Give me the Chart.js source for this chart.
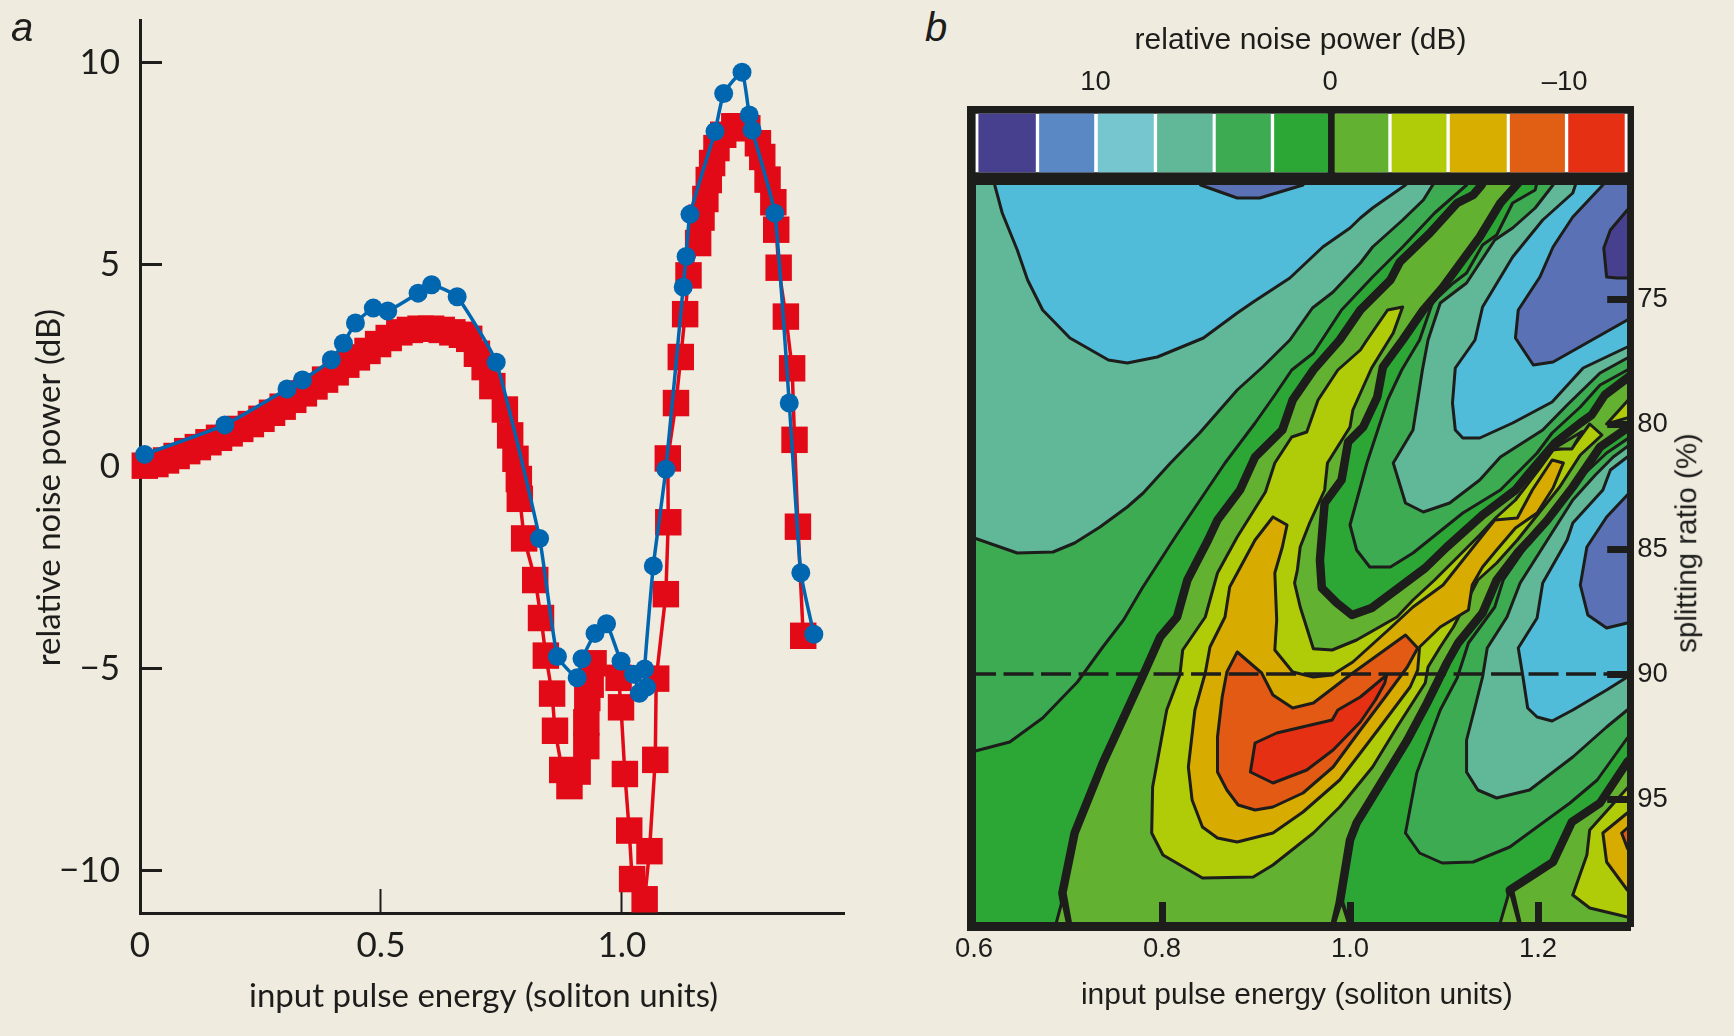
<!DOCTYPE html>
<html><head><meta charset="utf-8">
<script src="https://cdn.jsdelivr.net/npm/chart.js@4"></script>
<style>
html,body{margin:0;padding:0;width:1734px;height:1036px;background:#efebdf;overflow:hidden}
canvas{position:absolute;display:block}
.cap{position:absolute;color:#1d1d1b;font-family:"Liberation Sans",Arial,sans-serif;white-space:nowrap;line-height:1}
</style></head><body>
<canvas id="chartA" width="860" height="1036" style="left:0;top:0"></canvas>
<canvas id="chartC" width="774" height="180" style="left:960px;top:0"></canvas>
<canvas id="chartB" width="794" height="860" style="left:940px;top:176px"></canvas>
<div class="cap" style="left:11px;top:7px;font-size:40px;font-style:italic">a</div>
<div class="cap" style="left:925px;top:7px;font-size:40px;font-style:italic">b</div>
<div class="cap" style="left:1686px;top:543px;font-size:29.5px;transform:translate(-50%,-50%) rotate(-90deg)">splitting ratio (%)</div>
<script>
// ---------- panel a ----------
const redEnergy=[.01,.032,.054,.076,.098,.12,.142,.164,.186,.208,.23,.252,.274,.296,.318,.34,.362,.384,.406,.428,.45,.472,.494,.516,.538,.56,.582,.604,.626,.648,.668,.683,.699,.715,.731,.757,.768,.779,.786,.788,.797,.82,.832,.842,.855,.861,.876,.891,.908,.926,.926,.928,.935,.941,.993,.998,1.006,1.015,1.021,1.047,1.057,1.069,1.071,1.091,1.096,1.095,1.112,1.122,1.131,1.138,1.158,1.165,1.173,1.18,1.187,1.196,1.21,1.233,1.245,1.26,1.282,1.291,1.302,1.314,1.32,1.325,1.34,1.353,1.358,1.365,1.376];
const redNoise=[.03,.07,.16,.27,.39,.49,.61,.72,.83,.94,1.06,1.19,1.34,1.49,1.66,1.82,1.99,2.16,2.34,2.53,2.71,2.87,3.04,3.19,3.33,3.39,3.42,3.42,3.39,3.33,3.27,3.17,2.8,2.47,2.0,1.42,.78,.2,-.3,-.79,-1.77,-2.8,-3.74,-4.67,-5.61,-6.53,-7.5,-7.9,-7.54,-6.91,-6.32,-5.72,-5.39,-4.86,-5.22,-5.95,-7.6,-9.0,-10.2,-10.7,-9.51,-7.25,-5.24,-3.15,-1.37,.21,1.58,2.72,3.78,4.74,5.54,6.17,6.63,7.1,7.52,7.89,8.22,8.43,8.43,8.38,8.01,7.67,7.11,6.55,5.87,4.93,3.72,2.44,.67,-1.48,-4.18];
const blueEnergy=[.0096,.176,.305,.337,.397,.422,.447,.484,.514,.577,.605,.658,.739,.829,.866,.907,.917,.944,.968,.998,1.024,1.036,1.051,1.047,1.065,1.091,1.127,1.133,1.141,1.193,1.211,1.249,1.264,1.27,1.317,1.347,1.371,1.398];
const blueNoise=[.31,1.04,1.93,2.15,2.65,3.06,3.56,3.93,3.86,4.3,4.51,4.21,2.59,-1.77,-4.69,-5.22,-4.75,-4.12,-3.88,-4.81,-5.13,-5.6,-5.45,-5.0,-2.45,-.06,4.45,5.21,6.25,8.3,9.24,9.77,8.71,8.34,6.28,1.58,-2.62,-4.14];
const energyTicksA=[0,.5,1];
const energyLabelsA=['0','0.5','1.0'];
const noiseTicksA=[-10,-5,0,5,10];
const noiseLabelsA=['\u221210','\u22125','0','5','10'];

// ---------- panel b colour key (dB) ----------
const keyHigh=[14.98,12.39,9.89,7.36,4.86,2.37,-.21,-2.64,-5.12,-7.68,-10.17];
const keyLow=[12.56,10.07,7.53,5.02,2.54,.10,-2.47,-4.95,-7.52,-10.0,-12.55];
const keyColors=['#46408f','#5a88c4','#75c6ce','#60b899','#3dab52','#2ca736','#62b130','#b0cb08','#d8ae00','#e05f14','#e53013'];
const keyTicks=[10,0,-10];
const keyTickLabels=['10','0','\u201310'];

// ---------- panel b contours: [energy, splitting ratio] ----------
const regionBase=[[.585,69.84],[1.309,69.84],[1.309,100.44],[.585,100.44]];
const leftGreen=[[.585,93.24],[.638,92.72],[.673,91.76],[.710,90.32],[.737,88.92],[.759,87.84],[.779,86.56],[.812,84.64],[.819,84.24],[.867,81.56],[.899,79.96],[.920,78.84],[.938,77.84],[.961,77.16],[.991,75.44],[1.024,74.12],[1.056,72.92],[1.090,71.56],[1.124,70.44],[1.133,69.84],[.585,69.84]];
const leftTeal=[[.585,84.36],[.646,85.16],[.684,85.12],[.707,84.76],[.734,84.12],[.763,83.32],[.780,82.76],[.809,81.56],[.840,80.36],[.880,78.64],[.907,77.72],[.936,76.64],[.960,75.36],[.982,74.72],[1.011,73.56],[1.024,72.92],[1.056,71.84],[1.078,71.04],[1.088,70.44],[1.096,69.84],[.585,69.84]];
const leftCyan=[[.619,69.84],[.622,70.44],[.630,71.56],[.646,73.04],[.657,74.24],[.673,75.44],[.702,76.56],[.743,77.44],[.763,77.56],[.795,77.32],[.844,76.56],[.880,75.56],[.897,75.12],[.936,74.16],[.971,72.92],[1.000,72.16],[1.011,71.76],[1.024,71.36],[1.059,70.44],[1.077,69.84]];
const topBlue=[[.841,69.84],[.841,70.44],[.880,70.96],[.904,70.96],[.950,70.44],[.950,69.84]];
const hillGreen=[[1.202,69.84],[1.197,70.64],[1.173,71.16],[1.156,72.44],[1.141,72.84],[1.124,73.96],[1.110,74.36],[1.088,75.12],[1.074,76.64],[1.055,77.84],[1.040,79.04],[1.018,81.56],[1.000,84.04],[1.007,85.04],[1.021,85.72],[1.043,85.72],[1.067,85.16],[1.120,83.56],[1.160,82.64],[1.199,81.16],[1.215,80.36],[1.245,79.32],[1.266,78.44],[1.295,77.84],[1.309,77.44],[1.309,69.84]];
const hillTeal=[[1.216,69.84],[1.216,70.44],[1.197,71.36],[1.173,72.16],[1.154,72.64],[1.124,74.36],[1.096,75.16],[1.083,76.64],[1.077,77.84],[1.067,80.24],[1.046,81.56],[1.059,83.16],[1.078,83.52],[1.106,83.16],[1.138,82.24],[1.160,81.32],[1.205,80.24],[1.231,79.24],[1.266,77.96],[1.295,77.36],[1.309,77.12],[1.309,69.84]];
const hillCyan=[[1.245,69.84],[1.237,70.76],[1.205,71.84],[1.173,73.32],[1.141,75.32],[1.133,76.64],[1.112,77.76],[1.109,79.16],[1.112,80.24],[1.120,80.56],[1.138,80.56],[1.173,79.96],[1.215,79.12],[1.248,77.76],[1.295,76.92],[1.309,76.64],[1.309,69.84]];
const hillBlue=[[1.279,69.84],[1.269,70.44],[1.237,71.72],[1.216,72.92],[1.202,74.12],[1.179,75.44],[1.176,76.56],[1.195,77.64],[1.216,77.52],[1.295,75.84],[1.309,75.56],[1.309,69.84]];
const hillNavy=[[1.309,71.04],[1.295,71.44],[1.277,72.24],[1.270,72.96],[1.273,74.12],[1.284,74.16],[1.309,74.16]];
const lowGreen=[[1.059,96.36],[1.071,93.96],[1.096,91.44],[1.114,90.16],[1.126,88.76],[1.154,87.32],[1.163,86.24],[1.191,84.72],[1.223,83.24],[1.248,82.04],[1.273,81.16],[1.309,80.24],[1.309,92.24],[1.295,92.56],[1.263,94.24],[1.234,95.16],[1.199,96.12],[1.170,96.92],[1.131,97.52],[1.098,97.56],[1.074,97.16]];
const lowTeal=[[1.124,93.92],[1.124,92.64],[1.133,91.32],[1.141,90.12],[1.146,88.96],[1.167,87.72],[1.181,86.36],[1.210,84.64],[1.237,83.04],[1.261,82.04],[1.280,81.32],[1.309,80.52],[1.309,91.04],[1.295,91.44],[1.273,92.12],[1.237,93.32],[1.191,94.64],[1.156,94.96],[1.136,94.64]];
const lowCyan=[[1.179,88.96],[1.199,87.76],[1.205,86.36],[1.231,84.64],[1.237,83.96],[1.269,82.64],[1.277,81.84],[1.295,81.32],[1.309,81.04],[1.309,89.76],[1.295,90.12],[1.273,90.64],[1.237,91.44],[1.215,91.88],[1.199,91.72],[1.189,91.36],[1.184,90.12]];
const lowBlue=[[1.309,82.44],[1.295,82.84],[1.273,83.72],[1.252,84.92],[1.245,86.44],[1.253,87.64],[1.273,88.16],[1.295,87.96],[1.309,87.84]];
const ridgeZero=[[.702,100.44],[.694,98.76],[.707,96.36],[.737,93.56],[.779,90.12],[.798,88.52],[.816,87.72],[.827,86.24],[.849,84.64],[.859,83.84],[.883,82.64],[.899,81.32],[.928,80.24],[.939,79.04],[.961,77.84],[.989,76.64],[1.011,75.44],[1.043,74.24],[1.053,73.52],[1.085,72.36],[1.114,71.16],[1.131,70.84],[1.140,70.44],[1.149,69.84],[1.185,69.84],[1.179,70.36],[1.160,71.16],[1.138,72.52],[1.120,73.44],[1.099,74.52],[1.078,75.44],[1.056,76.64],[1.035,77.72],[1.029,78.92],[1.014,80.12],[.998,80.72],[.991,82.24],[.973,83.16],[.970,84.52],[.968,85.44],[.970,86.56],[.986,87.16],[1.002,87.64],[1.023,87.36],[1.053,86.52],[1.080,85.76],[1.103,84.92],[1.141,83.64],[1.176,82.64],[1.189,82.04],[1.218,80.76],[1.245,79.96],[1.257,79.64],[1.271,78.84],[1.295,78.16],[1.309,77.76],[1.309,79.84],[1.295,80.16],[1.266,80.92],[1.237,82.52],[1.210,83.84],[1.191,84.64],[1.178,85.16],[1.156,86.24],[1.141,87.56],[1.115,88.76],[1.103,89.56],[1.082,91.16],[1.061,92.64],[1.035,94.24],[1.007,95.96],[1.000,96.64],[.989,99.16],[.981,100.44]];
const ridgeYellow=[[.897,98.12],[.843,98.16],[.801,97.24],[.789,96.36],[.790,94.52],[.805,91.44],[.819,90.04],[.822,89.04],[.846,87.72],[.859,85.96],[.880,84.52],[.910,82.72],[.920,81.56],[.938,80.52],[.954,80.32],[.966,79.04],[.987,77.84],[1.011,77.04],[1.018,76.64],[1.040,75.44],[1.056,75.32],[1.046,76.36],[1.023,77.76],[1.003,79.44],[1.000,80.12],[.976,81.56],[.973,82.64],[.957,83.96],[.947,84.92],[.944,85.84],[.941,86.36],[.947,87.32],[.961,88.99],[.981,89.04],[1.007,88.64],[1.050,87.72],[1.067,87.04],[1.090,86.24],[1.106,85.64],[1.138,84.44],[1.156,83.72],[1.176,83.04],[1.202,81.76],[1.216,81.04],[1.237,80.92],[1.255,80.0],[1.268,80.44],[1.245,81.24],[1.223,82.52],[1.195,83.84],[1.178,84.64],[1.156,85.56],[1.136,86.24],[1.110,88.12],[1.096,88.92],[1.083,89.72],[1.080,90.36],[1.050,92.12],[1.024,93.72],[.998,94.92],[.989,95.32],[.961,96.36],[.918,97.64]];
const ridgeAmber=[[.918,83.72],[.933,84.04],[.928,84.92],[.920,85.96],[.922,87.84],[.920,89.04],[.939,89.92],[.961,90.12],[.981,90.04],[1.003,89.52],[1.043,88.16],[1.067,87.32],[1.099,86.44],[1.154,83.84],[1.178,83.76],[1.194,82.64],[1.215,81.44],[1.227,81.56],[1.216,82.56],[1.199,83.56],[1.176,84.16],[1.156,85.04],[1.141,85.72],[1.130,86.44],[1.126,87.44],[1.096,88.12],[1.074,88.92],[1.072,89.84],[1.064,90.52],[1.032,92.12],[1.011,93.16],[.989,94.24],[.950,95.52],[.918,96.36],[.880,96.72],[.859,96.56],[.843,96.12],[.832,95.04],[.828,93.72],[.835,91.44],[.846,89.96],[.851,88.92],[.867,87.72],[.872,86.52],[.899,84.64]];
const ridgeOrange=[[.880,89.12],[.906,89.96],[.918,90.84],[.939,91.36],[.961,91.16],[1.000,90.04],[1.059,88.44],[1.072,88.96],[1.061,89.72],[1.035,91.04],[1.011,92.24],[.982,93.72],[.950,94.76],[.918,95.32],[.899,95.44],[.881,95.24],[.869,94.64],[.859,93.92],[.859,92.52],[.864,90.92],[.869,89.92]];
const ridgeRed=[[.899,92.76],[.922,92.36],[.981,91.84],[.987,91.44],[1.011,90.92],[1.039,90.04],[1.037,90.36],[1.027,91.04],[1.011,91.92],[.982,93.04],[.954,93.84],[.918,94.36],[.894,93.92]];
const edgeYellow=[[1.273,80.0],[1.309,78.5],[1.309,79.6]];
const notchLime=[[1.216,81.0],[1.247,80.3],[1.236,81.0]];
const cornerLime=[[1.181,100.44],[1.170,98.64],[1.216,97.52],[1.236,95.92],[1.266,95.16],[1.295,93.52],[1.309,93.04],[1.309,100.44]];
const cornerYellow=[[1.237,98.84],[1.252,97.24],[1.255,96.24],[1.295,94.56],[1.309,94.04],[1.309,99.84],[1.295,99.72],[1.255,99.36]];
const cornerAmber=[[1.309,95.24],[1.295,95.56],[1.269,96.36],[1.273,97.52],[1.295,98.64],[1.309,99.04]];
const cornerOrange=[[1.309,95.76],[1.295,96.16],[1.289,96.36],[1.295,96.96],[1.309,97.84]];
const forkA=[[.684,100.44],[.694,99.04],[.702,100.44]];
const forkB=[[.979,100.44],[.991,99.04],[1.003,100.44]];
const forkC=[[1.156,100.44],[1.170,98.64],[1.183,100.44]];
const scanLine=[[.6,90],[1.3,90]];
const energyTicksB=[.6,.8,1,1.2];
const ratioTicksB=[75,80,85,90,95];

const INK='#1d1d1b', NAVY='#46408f', BLUE='#5a72b5', CYAN='#50bcd9', TEAL='#60b899', G1='#3dab52', G2='#2ca736', LIME='#62b130', YEL='#b0cb08', AMB='#d8ab00', ORG='#e25a13', RED='#e53013';
const THIN=3, THICK=8.5;
const paint=[
 [regionBase,G2,0],[leftGreen,G1,THIN],[leftTeal,TEAL,THIN],[leftCyan,CYAN,THIN],[topBlue,BLUE,THIN],
 [hillGreen,G1,THIN],[hillTeal,TEAL,THIN],[hillCyan,CYAN,THIN],[hillBlue,BLUE,THIN],[hillNavy,NAVY,THIN],
 [lowGreen,G1,THIN],[lowTeal,TEAL,THIN],[lowCyan,CYAN,THIN],[lowBlue,BLUE,THIN],
 [ridgeZero,LIME,THICK],[ridgeYellow,YEL,THIN],[ridgeAmber,AMB,THIN],[ridgeOrange,ORG,THIN],[ridgeRed,RED,THIN],
 [edgeYellow,YEL,THIN],[notchLime,LIME,THIN],
 [cornerLime,LIME,THICK],[cornerYellow,YEL,THIN],[cornerAmber,AMB,THIN],[cornerOrange,ORG,THIN],
 [forkA,LIME,THIN],[forkB,LIME,4],[forkC,LIME,THIN]
];

Chart.defaults.animation=false;
Chart.defaults.color=INK;
const NARROW='Lato,"Liberation Sans",sans-serif', SANS='"Liberation Sans",Arial,sans-serif';
const zeroPad=s=>{s.paddingLeft=s.paddingRight=s.paddingTop=s.paddingBottom=0;};
const setTicks=vals=>s=>{s.ticks=vals.map(v=>({value:v}));};
const zip=(a,b)=>a.map((x,i)=>({x,y:b[i]}));

// panel a
new Chart(document.getElementById('chartA'),{
 type:'scatter',
 data:{datasets:[
  {label:'blue',data:zip(blueEnergy,blueNoise),showLine:true,order:1,clip:false,tension:.15,borderColor:'#0066b0',backgroundColor:'#0066b0',borderWidth:3.5,pointStyle:'circle',pointRadius:9.5,pointBorderWidth:0},
  {label:'red',data:zip(redEnergy,redNoise),showLine:true,order:2,clip:false,tension:0,borderColor:'#e30a17',backgroundColor:'#e30a17',borderWidth:3.5,pointStyle:'rect',pointRadius:18.7,pointBorderWidth:0}
 ]},
 options:{responsive:false,devicePixelRatio:1,
  layout:{autoPadding:false,padding:{top:20,right:16}},
  plugins:{legend:{display:false},tooltip:{enabled:false}},
  scales:{
   x:{type:'linear',min:0,max:1.4606,
    afterBuildTicks:setTicks(energyTicksA),
    afterFit:s=>{s.height=123;zeroPad(s);},
    border:{color:INK,width:3},
    grid:{drawOnChartArea:false,tickLength:-24,tickWidth:2,tickColor:c=>c.tick&&c.tick.value===0?'rgba(0,0,0,0)':INK},
    ticks:{autoSkip:false,maxRotation:0,padding:36,color:INK,font:{family:NARROW,size:35},callback:(v,i)=>energyLabelsA[i]},
    title:{display:true,text:'input pulse energy (soliton units)  ',color:INK,font:{family:NARROW,size:33},padding:{top:0,bottom:20}}
   },
   y:{type:'linear',min:-11.04,max:11.06,
    afterBuildTicks:setTicks(noiseTicksA),
    afterFit:s=>{s.width=140;zeroPad(s);},
    border:{color:INK,width:3},
    grid:{drawOnChartArea:false,tickLength:-22,tickWidth:3,tickColor:INK},
    ticks:{autoSkip:false,padding:42,color:INK,font:{family:NARROW,size:35},callback:(v,i)=>noiseLabelsA[i]},
    title:{display:true,text:'relative noise power (dB)     ',color:INK,font:{family:NARROW,size:33},padding:{top:30,bottom:0}}
   }
  }
 }
});

// panel b colour key
new Chart(document.getElementById('chartC'),{
 type:'bar',
 data:{labels:['key'],datasets:[
  {label:'frame',data:[[15.48,-12.96]],backgroundColor:INK,barThickness:74,order:3,grouped:false},
  {label:'strip',data:[[15.1,-12.67]],backgroundColor:'#ffffff',barThickness:58,order:2,grouped:false},
  {label:'gap',data:[[.10,-.21]],backgroundColor:INK,barThickness:74,order:1,grouped:false},
  ...keyColors.map((c,i)=>({label:'band'+i,data:[[keyHigh[i],keyLow[i]]],backgroundColor:c,barThickness:58,order:0,grouped:false}))
 ]},
 options:{responsive:false,devicePixelRatio:1,indexAxis:'y',
  layout:{padding:{left:7,right:100}},
  plugins:{legend:{display:false},tooltip:{enabled:false}},
  scales:{
   y:{display:false},
   x:{type:'linear',position:'top',reverse:true,min:-12.96,max:15.48,
    afterBuildTicks:setTicks(keyTicks),
    afterFit:s=>{s.height=106;zeroPad(s);},
    border:{display:false},
    grid:{display:false,drawTicks:false},
    ticks:{autoSkip:false,maxRotation:0,padding:7,color:INK,font:{family:SANS,size:27.5},callback:(v,i)=>keyTickLabels[i]},
    title:{display:true,text:'relative noise power (dB)',color:INK,font:{family:SANS,size:30},padding:{top:23,bottom:0}}
   }
  }
 }
});

// panel b map
const n=paint.length;
new Chart(document.getElementById('chartB'),{
 type:'scatter',
 data:{datasets:[
  {label:'90%',data:scanLine.map(([x,y])=>({x,y})),showLine:true,order:0,clip:0,borderColor:INK,borderWidth:3.5,borderDash:[30,7.5],borderDashOffset:8,pointRadius:0,fill:false,xAxisID:'x',yAxisID:'y'},
  ...paint.map(([pts,col,w],i)=>{
   const d=pts.map(([x,y])=>({x,y}));d.push(d[0]);
   return {label:'c'+i,data:d,showLine:true,order:n-i+1,clip:0,fill:'shape',backgroundColor:col,borderColor:w?INK:col,borderWidth:w,borderJoinStyle:'round',borderCapStyle:'round',pointRadius:0,tension:0,xAxisID:'x',yAxisID:'y'};
  })
 ]},
 options:{responsive:false,devicePixelRatio:1,
  layout:{autoPadding:false},
  plugins:{legend:{display:false},tooltip:{enabled:false}},
  scales:{
   xTop:{type:'linear',axis:'x',position:'top',min:0,max:1,
    afterFit:s=>{s.height=5.5;zeroPad(s);},
    border:{color:INK,width:6,z:2},grid:{drawOnChartArea:false,drawTicks:false},ticks:{display:false}},
   x:{type:'linear',position:'bottom',min:.5973,max:1.2984,
    afterBuildTicks:setTicks(energyTicksB),
    afterFit:s=>{s.height=109.5;zeroPad(s);},
    border:{color:INK,width:9,z:2},
    grid:{drawOnChartArea:false,z:2,tickLength:-24.5,tickWidth:7,tickColor:c=>c.tick&&c.tick.value===.6?'rgba(0,0,0,0)':INK},
    ticks:{autoSkip:false,maxRotation:0,padding:31,color:INK,font:{family:SANS,size:27.5},callback:v=>v.toFixed(1)},
    title:{display:true,text:'input pulse energy (soliton units) ',color:INK,font:{family:SANS,size:30},padding:{top:0,bottom:22}}
   },
   yLeft:{type:'linear',axis:'y',position:'left',min:0,max:1,
    afterFit:s=>{s.width=31.5;zeroPad(s);},
    border:{color:INK,width:9,z:2},grid:{drawOnChartArea:false,drawTicks:false},ticks:{display:false}},
   y:{type:'linear',position:'right',reverse:true,min:70.3,max:100.1,
    afterBuildTicks:setTicks(ratioTicksB),
    afterFit:s=>{s.width=103.5;zeroPad(s);},
    border:{color:INK,width:7,z:2},
    grid:{drawOnChartArea:false,z:2,tickLength:-23.3,tickWidth:7,tickColor:INK},
    ticks:{autoSkip:false,padding:30,color:INK,font:{family:SANS,size:27.5},callback:v=>String(v)}
   }
  }
 }
});
</script>
</body></html>
